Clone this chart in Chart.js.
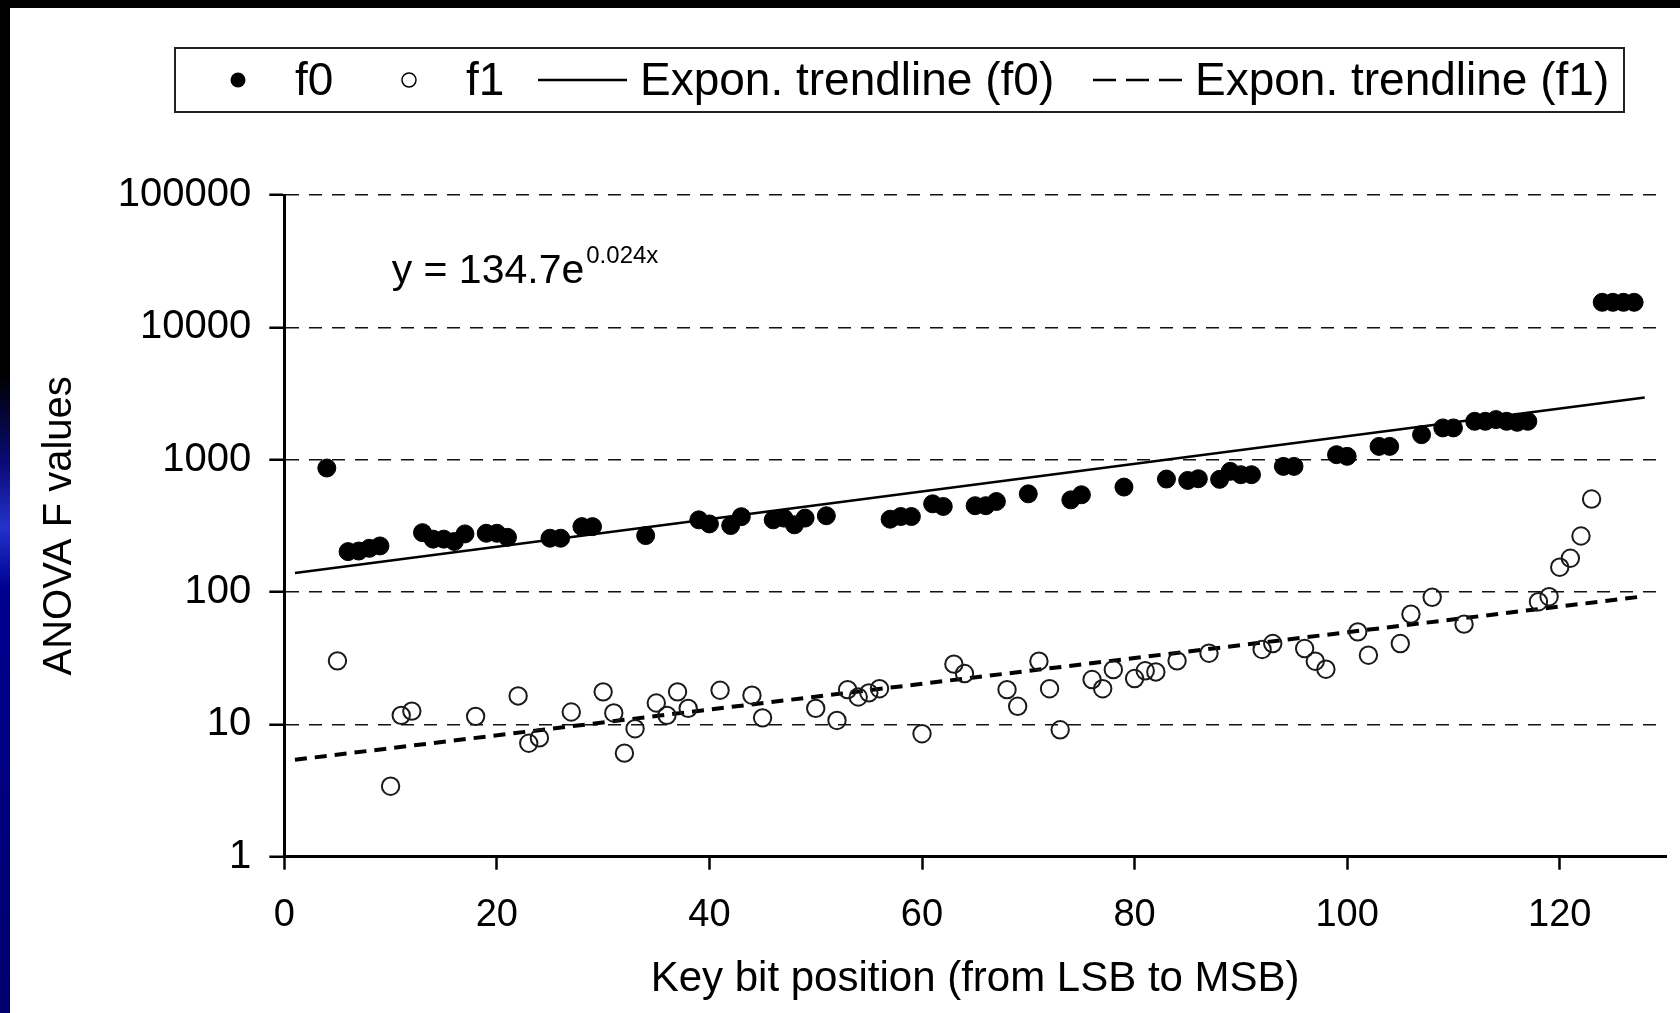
<!DOCTYPE html>
<html>
<head>
<meta charset="utf-8">
<script src="https://cdn.jsdelivr.net/npm/chart.js@4.4.1/dist/chart.umd.min.js"></script>
<style>
  html, body { margin: 0; padding: 0; background: #000; }
  body { width: 1680px; height: 1013px; position: relative; overflow: hidden; }
  #strip { position: absolute; left: 0; top: 0; width: 10px; height: 1013px;
    background: linear-gradient(to bottom, #000 0%, #000 37%, #0b0b7a 46%, #2233cc 52%, #000090 58%, #00006e 100%); }
  #panel { position: absolute; left: 10px; top: 8px; width: 1670px; height: 1005px; background: #fff; }
</style>
</head>
<body>
<div id="strip"></div>
<div id="panel"><canvas id="chart" width="1670" height="1005"></canvas></div>
<script>
// f0 points (filled)
var f0Bits = [4, 6, 7, 8, 9, 13, 14, 15, 16, 17, 19, 20, 21, 25, 26, 28, 29, 34, 39, 40,
  42, 43, 46, 47, 48, 49, 51, 57, 58, 59, 61, 62, 65, 66, 67, 70, 74, 75, 79, 83,
  85, 86, 88, 89, 90, 91, 94, 95, 99, 100, 103, 104, 107, 109, 110, 112, 113, 114, 115, 116,
  117, 124, 125, 126, 127];
var f0Values = [865, 202, 204, 214, 223, 281, 251, 251, 241, 275, 278, 278, 259, 255, 255, 312, 312, 267, 351, 327,
  318, 371, 351, 362, 322, 362, 377, 355, 372, 372, 464, 443, 449, 449, 483, 552, 497, 543, 621, 714,
  697, 718, 710, 816, 770, 770, 890, 890, 1091, 1060, 1260, 1260, 1545, 1738, 1738, 1950, 1950, 2010, 1950, 1917,
  1950, 15460, 15460, 15460, 15460];

// f1 points (open)
var f1Bits = [5, 10, 11, 12, 18, 22, 23, 24, 27, 30, 31, 32, 33, 35, 36, 37, 38, 41, 44, 45,
  50, 52, 53, 54, 55, 56, 60, 63, 64, 68, 69, 71, 72, 73, 76, 77, 78, 80, 81, 82,
  84, 87, 92, 93, 96, 97, 98, 101, 102, 105, 106, 108, 111, 118, 119, 120, 121, 122, 123];
var f1Values = [30.2, 3.41, 11.7, 12.6, 11.5, 16.4, 7.2, 7.9, 12.4, 17.6, 12.2, 6.06, 9.27, 14.5, 11.7, 17.6, 13.2, 18.1, 16.6, 11.2,
  13.2, 10.7, 18.3, 16.1, 17.3, 18.6, 8.5, 28.5, 24.2, 18.3, 13.7, 30.0, 18.6, 9.1, 21.8, 18.6, 25.9, 22.2, 25.4, 24.9,
  30.2, 34.5, 36.8, 40.8, 37.4, 30.0, 26.1, 50.0, 33.3, 40.8, 68.1, 91.2, 57.2, 84.5, 92.2, 154, 180, 265, 504];

// trendline ends (straight on a log axis)
var trendBits = [1, 128];
var trendF0 = [139, 2950];
var trendF1 = [5.4, 93];

var xTicks = [0, 20, 40, 60, 80, 100, 120];
var yTicks = [1, 10, 100, 1000, 10000, 100000];
var legendLabels = ['f0', 'f1', 'Expon. trendline (f0)', 'Expon. trendline (f1)'];
var equationText = 'y = 134.7e';
var equationExp = '0.024x';

var FONT = '"Liberation Sans", Arial, sans-serif';
Chart.defaults.font.family = FONT;
Chart.defaults.color = '#000';

function toPoints(xs, ys) {
  return xs.map(function(x, i) { return {x: x, y: ys[i]}; });
}

var extrasPlugin = {
  id: 'extras',
  afterDraw: function(chart) {
    var ctx = chart.ctx;
    var xs = chart.scales.x, ys = chart.scales.y;
    ctx.save();
    // legend box
    ctx.strokeStyle = '#222';
    ctx.lineWidth = 2;
    ctx.strokeRect(165, 40, 1449, 64);
    var cy = 72;
    ctx.fillStyle = '#000';
    ctx.strokeStyle = '#000';
    ctx.beginPath(); ctx.arc(228, cy, 7.5, 0, Math.PI * 2); ctx.fill();
    ctx.lineWidth = 1.5;
    ctx.beginPath(); ctx.arc(399, cy, 7, 0, Math.PI * 2); ctx.stroke();
    ctx.lineWidth = 2.5;
    ctx.beginPath(); ctx.moveTo(528, cy); ctx.lineTo(617, cy); ctx.stroke();
    ctx.setLineDash([23, 10]);
    ctx.beginPath(); ctx.moveTo(1083, cy); ctx.lineTo(1172, cy); ctx.stroke();
    ctx.setLineDash([]);
    ctx.font = '46px ' + FONT;
    ctx.textBaseline = 'middle';
    ctx.textAlign = 'left';
    ctx.fillText(legendLabels[0], 285, cy + 2);
    ctx.fillText(legendLabels[1], 456, cy + 2);
    ctx.fillText(legendLabels[2], 630, cy + 2);
    ctx.fillText(legendLabels[3], 1185, cy + 2);

    // trendline equation
    var ex = xs.getPixelForValue(10.1);
    var ey = ys.getPixelForValue(21500);
    ctx.textBaseline = 'alphabetic';
    ctx.font = '41px ' + FONT;
    ctx.fillText(equationText, ex, ey);
    var w = ctx.measureText(equationText).width;
    ctx.font = '24px ' + FONT;
    ctx.fillText(equationExp, ex + w + 2, ey - 20);
    ctx.restore();
  }
};

new Chart(document.getElementById('chart'), {
  type: 'scatter',
  data: {
    datasets: [{
      label: legendLabels[0],
      data: toPoints(f0Bits, f0Values),
      pointRadius: 9,
      pointBorderWidth: 1,
      backgroundColor: '#000',
      borderColor: '#000'
    }, {
      label: legendLabels[1],
      data: toPoints(f1Bits, f1Values),
      pointRadius: 8.7,
      pointBorderWidth: 2,
      backgroundColor: 'rgba(0,0,0,0)',
      borderColor: '#1a1a1a'
    }, {
      type: 'line',
      label: legendLabels[2],
      data: toPoints(trendBits, trendF0),
      showLine: true,
      pointRadius: 0,
      borderColor: '#000',
      borderWidth: 2.5,
      fill: false
    }, {
      type: 'line',
      label: legendLabels[3],
      data: toPoints(trendBits, trendF1),
      showLine: true,
      pointRadius: 0,
      borderColor: '#000',
      borderWidth: 4,
      borderDash: [12, 8],
      fill: false
    }]
  },
  options: {
    responsive: false,
    animation: false,
    layout: {
      padding: {left: 0, top: 187, right: 14, bottom: 0}
    },
    plugins: {
      legend: {display: false},
      tooltip: {enabled: false}
    },
    scales: {
      x: {
        type: 'linear',
        min: 0,
        max: 130,
        afterBuildTicks: function(scale) {
          scale.ticks = xTicks.map(function(v) { return {value: v}; });
        },
        afterFit: function(scale) { scale.height = 156.3; },
        border: {display: true, color: '#000', width: 3},
        grid: {drawOnChartArea: false, drawTicks: true, tickLength: 13, tickColor: '#000', tickWidth: 2.5},
        ticks: {font: {size: 38}, color: '#000', padding: 23, maxRotation: 0},
        title: {
          display: true,
          text: 'Key bit position (from LSB to MSB)',
          font: {size: 42},
          color: '#000',
          padding: {top: 0, bottom: 8}
        }
      },
      y: {
        type: 'logarithmic',
        min: 1,
        max: 100000,
        afterBuildTicks: function(scale) {
          scale.ticks = yTicks.map(function(v) { return {value: v}; });
        },
        afterFit: function(scale) { scale.width = 274.3; },
        border: {display: true, color: '#000', width: 3, dash: [13, 10]},
        grid: {
          color: '#111',
          lineWidth: 1.5,
          tickLength: 15,
          tickColor: '#000',
          tickWidth: 2.5,
          tickBorderDash: [1, 0]
        },
        ticks: {
          font: {size: 40},
          color: '#000',
          padding: 18,
          callback: function(v) { return String(v); }
        },
        title: {
          display: true,
          text: 'ANOVA F values',
          font: {size: 40},
          color: '#000',
          padding: {top: 26, bottom: 0}
        }
      }
    }
  },
  plugins: [extrasPlugin]
});
</script>
</body>
</html>
